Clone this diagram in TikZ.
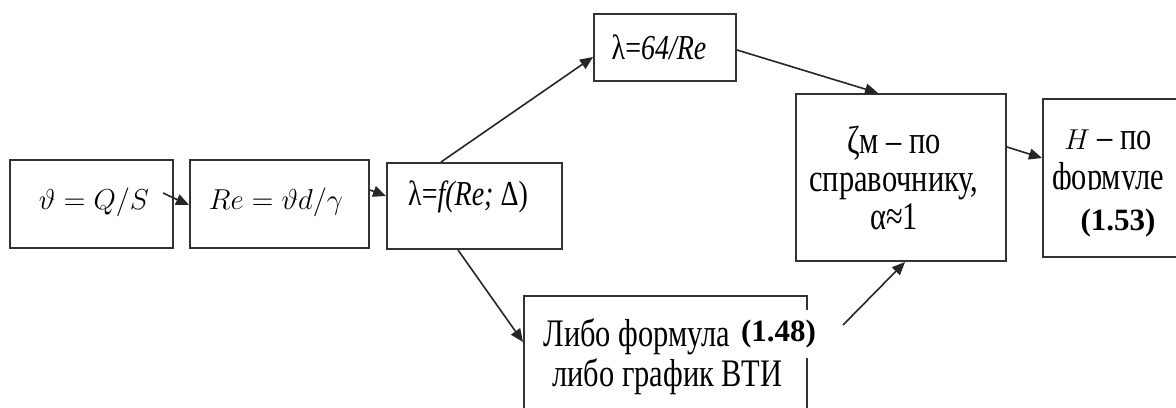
\documentclass[tikz,border=0pt]{standalone}
\usepackage{fontspec}
\setmainfont{Liberation Serif}
\newfontfamily\condfont[FakeStretch=0.78]{Liberation Serif}
\newfontfamily\italfont[FakeStretch=0.8]{Liberation Serif}
\usetikzlibrary{arrows.meta}

\begin{document}
\begin{tikzpicture}[x=0.5pt,y=-0.5pt,
  blk/.style={draw=black!80, line width=1pt, inner sep=0pt},
  conn/.style={line width=0.8pt, draw=black!85,
    -{Triangle[length=6.5pt,width=5.5pt]}},
  mathtxt/.style={inner sep=0pt, font=\fontsize{15}{18}\selectfont},
  itxt/.style={inner sep=0pt, font=\fontsize{17.5}{20}\selectfont\italfont},
  cyr/.style={inner sep=0pt, font=\fontsize{19.5}{20}\selectfont\condfont, align=center},
  eqref/.style={fill=white, inner sep=0pt, font=\fontsize{15.5}{18}\selectfont\bfseries}]
\useasboundingbox (0,0) rectangle (1176,407);

% boxes
\node[blk, minimum width=81.5pt, minimum height=44pt]   (A) at (91.5,204) {};
\node[blk, minimum width=89.5pt, minimum height=44pt]   (B) at (279.5,204) {};
\node[blk, minimum width=87.5pt, minimum height=43pt]   (C) at (474.5,206) {};
\node[blk, minimum width=71pt,   minimum height=33.5pt] (D) at (665,47.5) {};
\node[blk, minimum width=105pt,  minimum height=83.5pt] (E) at (901,177.5) {};
\node[blk, minimum width=78.5pt, minimum height=79pt]   (F) at (1121.5,178) {};
\node[blk, minimum width=141.5pt,minimum height=72pt]   (G) at (665.5,368) {};

% box texts
\node[mathtxt] (tA) at (94,202)  {$\vartheta = Q/S$};
\node[mathtxt] (tB) at (276,202) {$Re = \vartheta d/\gamma$};
\node[itxt]    (tC) at (468,197) {λ=\textit{f(Re;} Δ)};
\node[itxt]    (tD) at (659,47)  {λ=\textit{64/Re}};
\node[cyr, text depth=0pt] (tE) at (894,178)
  {ζм – по\\[-1pt]справочнику,\\[-1pt]α≈1};
\node[cyr] (tF1) at (1108,140) {{\fontsize{15}{18}\selectfont$H$} – по};
\node[cyr] (tF2) at (1108,180) {формуле};
\node[cyr, anchor=west] (tG1) at (543,337) {Либо формула};
\node[cyr, anchor=west] (tG2) at (552,377) {либо график ВТИ};

% equation references on white patches
\node[eqref, minimum width=36.5pt, minimum height=24pt] (r48) at (778.5,334) {(1.48)};
\node[eqref, minimum width=60pt, minimum height=30pt, text depth=0pt] (r53) at (1118,220) {(1.53)};

% connectors
\coordinate (a0) at (163,193);
\coordinate (g0) at (843,325);
\draw[conn] (a0) -- (B.west |- 0,205);
\draw[conn] (B.east |- 0,190) -- (C.west |- 0,196);
\draw[conn] (C.north -| 441,0) -- (D.west |- 0,57);
\draw[conn] (C.south -| 458,0) -- (G.west |- 0,342);
\draw[conn] (D.east |- 0,50) -- (E.north -| 878,0);
\draw[conn] (g0) -- (E.south -| 905,0);
\draw[conn] (E.east |- 0,147) -- (F.west |- 0,158);
\end{tikzpicture}
\end{document}
